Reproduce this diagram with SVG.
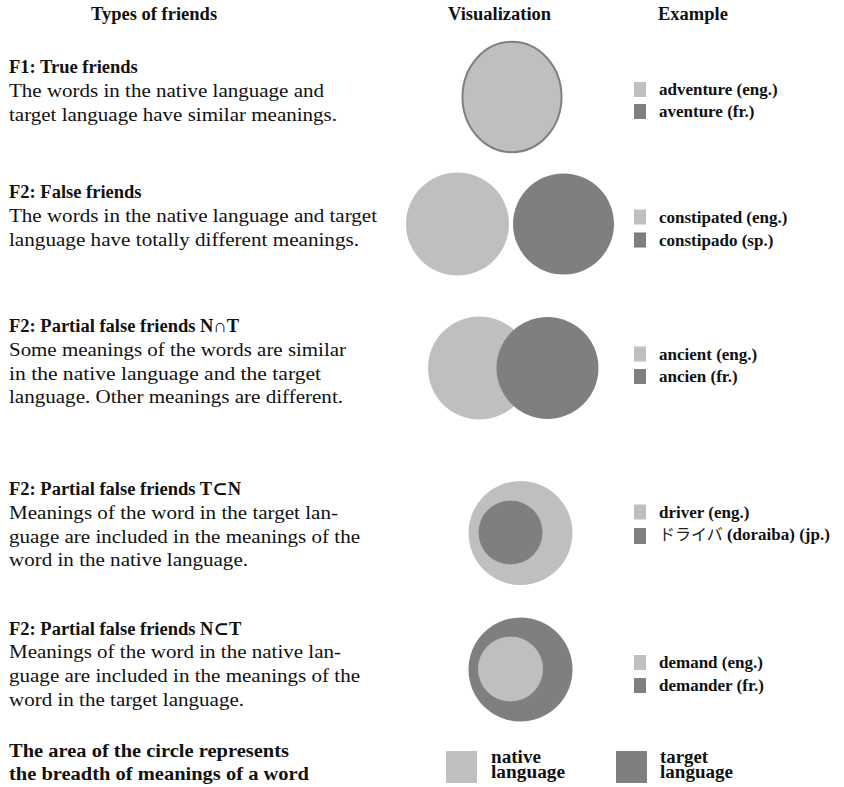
<svg xmlns="http://www.w3.org/2000/svg" width="844" height="787" viewBox="0 0 844 787">
  <style>
    .hdr { font-family: "Liberation Serif", "DejaVu Serif", serif; font-weight: bold; font-size: 18.5px; fill: #111; }
    .ttl { font-family: "Liberation Serif", "DejaVu Serif", serif; font-weight: bold; font-size: 18.5px; fill: #111; }
    .body { font-family: "Liberation Serif", "DejaVu Serif", serif; font-size: 19px; fill: #111; }
    .ex { font-family: "Liberation Serif", "DejaVu Serif", serif; font-weight: bold; font-size: 17px; fill: #111; }
    .jp { font-family: "Noto Sans CJK JP", sans-serif; font-weight: normal; font-size: 16px; fill: #222; }
    .leg { font-family: "Liberation Serif", "DejaVu Serif", serif; font-weight: bold; font-size: 18px; fill: #111; }
    .nat { fill: #bfbfbf; }
    .tgt { fill: #7f7f7f; }
  </style>

  <rect width="844" height="787" fill="#ffffff"/>

  <!-- column headers -->
  <g id="headers">
    <text class="hdr" x="91" y="20">Types of friends</text>
    <text class="hdr" x="448" y="20">Visualization</text>
    <text class="hdr" x="658" y="20">Example</text>
  </g>

  <!-- F1: true friends -->
  <g id="row-true-friends">
    <text class="ttl" x="9" y="73">F1: True friends</text>
    <text class="body" x="9" y="97" textLength="315" lengthAdjust="spacingAndGlyphs">The words in the native language and</text>
    <text class="body" x="9" y="121" textLength="328" lengthAdjust="spacingAndGlyphs">target language have similar meanings.</text>
    <ellipse class="nat" cx="512" cy="97" rx="49.5" ry="55.2" stroke="#808080" stroke-width="2"/>
    <rect class="nat" x="634" y="82" width="12" height="15"/>
    <text class="ex" x="659" y="95">adventure (eng.)</text>
    <rect class="tgt" x="634" y="104" width="12" height="15"/>
    <text class="ex" x="659" y="117">aventure (fr.)</text>
  </g>

  <!-- F2: false friends -->
  <g id="row-false-friends">
    <text class="ttl" x="9" y="198">F2: False friends</text>
    <text class="body" x="9" y="222" textLength="368" lengthAdjust="spacingAndGlyphs">The words in the native language and target</text>
    <text class="body" x="9" y="246" textLength="350" lengthAdjust="spacingAndGlyphs">language have totally different meanings.</text>
    <circle class="nat" cx="457.5" cy="224" r="51.5"/>
    <circle class="tgt" cx="563.5" cy="224" r="50.5"/>
    <rect class="nat" x="634" y="209.5" width="12" height="15"/>
    <text class="ex" x="659" y="222.5">constipated (eng.)</text>
    <rect class="tgt" x="634" y="232.5" width="12" height="15"/>
    <text class="ex" x="659" y="245.5">constipado (sp.)</text>
  </g>

  <!-- F2: partial false friends, overlap -->
  <g id="row-partial-overlap">
    <text class="ttl" x="9" y="332">F2: Partial false friends N∩T</text>
    <text class="body" x="9" y="356" textLength="337" lengthAdjust="spacingAndGlyphs">Some meanings of the words are similar</text>
    <text class="body" x="9" y="380" textLength="312" lengthAdjust="spacingAndGlyphs">in the native language and the target</text>
    <text class="body" x="9" y="403" textLength="334" lengthAdjust="spacingAndGlyphs">language. Other meanings are different.</text>
    <circle class="nat" cx="479.5" cy="368" r="51.5"/>
    <circle class="tgt" cx="547.5" cy="368" r="51"/>
    <rect class="nat" x="634" y="346.5" width="12" height="15"/>
    <text class="ex" x="659" y="359.5">ancient (eng.)</text>
    <rect class="tgt" x="634" y="369" width="12" height="15"/>
    <text class="ex" x="659" y="382">ancien (fr.)</text>
  </g>

  <!-- F2: partial false friends, target inside native -->
  <g id="row-target-in-native">
    <text class="ttl" x="9" y="495">F2: Partial false friends T⊂N</text>
    <text class="body" x="9" y="519" textLength="329" lengthAdjust="spacingAndGlyphs">Meanings of the word in the target lan-</text>
    <text class="body" x="9" y="543" textLength="351" lengthAdjust="spacingAndGlyphs">guage are included in the meanings of the</text>
    <text class="body" x="9" y="566" textLength="239" lengthAdjust="spacingAndGlyphs">word in the native language.</text>
    <circle class="nat" cx="520.5" cy="533" r="52"/>
    <circle class="tgt" cx="510.5" cy="532.5" r="32"/>
    <rect class="nat" x="634" y="504.5" width="12" height="15"/>
    <text class="ex" x="659" y="517.5">driver (eng.)</text>
    <rect class="tgt" x="634" y="528" width="12" height="16"/>
    <text x="659" y="540"><tspan class="jp">ドライバ</tspan><tspan class="ex"> (doraiba) (jp.)</tspan></text>
  </g>

  <!-- F2: partial false friends, native inside target -->
  <g id="row-native-in-target">
    <text class="ttl" x="9" y="635">F2: Partial false friends N⊂T</text>
    <text class="body" x="9" y="658" textLength="332" lengthAdjust="spacingAndGlyphs">Meanings of the word in the native lan-</text>
    <text class="body" x="9" y="682" textLength="351" lengthAdjust="spacingAndGlyphs">guage are included in the meanings of the</text>
    <text class="body" x="9" y="706" textLength="235" lengthAdjust="spacingAndGlyphs">word in the target language.</text>
    <circle class="tgt" cx="520.5" cy="669.5" r="52"/>
    <circle class="nat" cx="510.5" cy="669" r="32.5"/>
    <rect class="nat" x="634" y="655" width="12" height="15"/>
    <text class="ex" x="659" y="668">demand (eng.)</text>
    <rect class="tgt" x="634" y="678" width="12" height="15"/>
    <text class="ex" x="659" y="691">demander (fr.)</text>
  </g>

  <!-- legend -->
  <g id="legend">
    <text class="ttl" x="9" y="757" textLength="280" lengthAdjust="spacingAndGlyphs">The area of the circle represents</text>
    <text class="ttl" x="9" y="780" textLength="300" lengthAdjust="spacingAndGlyphs">the breadth of meanings of a word</text>
    <rect class="nat" x="446" y="751" width="31" height="32"/>
    <text class="leg" x="491" y="763" textLength="50" lengthAdjust="spacingAndGlyphs">native</text>
    <text class="leg" x="491" y="778" textLength="74" lengthAdjust="spacingAndGlyphs">language</text>
    <rect class="tgt" x="616" y="751" width="31" height="32"/>
    <text class="leg" x="660" y="763" textLength="48" lengthAdjust="spacingAndGlyphs">target</text>
    <text class="leg" x="660" y="778" textLength="73" lengthAdjust="spacingAndGlyphs">language</text>
  </g>
</svg>
